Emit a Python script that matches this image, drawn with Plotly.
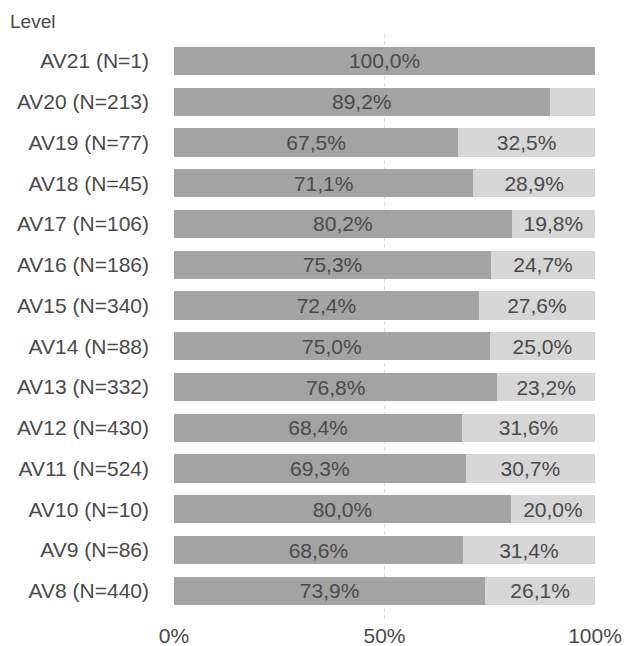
import plotly.graph_objects as go

levels = ["AV8 (N=440)", "AV9 (N=86)", "AV10 (N=10)", "AV11 (N=524)", "AV12 (N=430)",
          "AV13 (N=332)", "AV14 (N=88)", "AV15 (N=340)", "AV16 (N=186)", "AV17 (N=106)",
          "AV18 (N=45)", "AV19 (N=77)", "AV20 (N=213)", "AV21 (N=1)"]
share_a = [73.9, 68.6, 80.0, 69.3, 68.4, 76.8, 75.0, 72.4, 75.3, 80.2, 71.1, 67.5, 89.2, 100.0]
share_b = [26.1, 31.4, 20.0, 30.7, 31.6, 23.2, 25.0, 27.6, 24.7, 19.8, 28.9, 32.5, 10.8, 0.0]

FONT = "Liberation Sans, Arial, sans-serif"
TXT = "#4a4a4a"


def lab(v, min_show=12):
    # comma decimal, small segments stay unlabeled
    return (f"{v:.1f}%".replace(".", ",")) if v >= min_show else ""


fig = go.Figure()
fig.add_trace(go.Bar(
    y=levels, x=share_a, orientation="h",
    marker=dict(color="#a3a3a3", line_width=0),
    text=[lab(v) for v in share_a], textposition="inside", insidetextanchor="middle",
    textfont=dict(color=TXT, size=21), hoverinfo="skip",
))
fig.add_trace(go.Bar(
    y=levels, x=share_b, orientation="h",
    marker=dict(color="#d6d6d6", line_width=0),
    text=[lab(v) for v in share_b], textposition="inside", insidetextanchor="middle",
    textfont=dict(color=TXT, size=21), hoverinfo="skip",
))

# page body has an 8px margin, so margins are shifted by 8px
fig.update_layout(
    barmode="stack", bargap=0.31,
    width=633, height=646,
    margin=dict(l=166, r=46, t=26, b=33),
    plot_bgcolor="white", paper_bgcolor="white",
    font=dict(family=FONT, color=TXT, size=21),
    showlegend=False,
    uniformtext=dict(minsize=21, mode="show"),
    annotations=[dict(text="Level", xref="paper", yref="paper",
                      x=-166 / 421, y=1 + 13 / 587, xanchor="left", yanchor="middle",
                      showarrow=False, font=dict(size=19, color=TXT))],
)
fig.update_xaxes(range=[0, 100], tickvals=[0, 50, 100], ticktext=["0%", "50%", "100%"],
                 showgrid=True, gridcolor="#dedede", griddash="4px,3px", gridwidth=1,
                 zeroline=False, showline=False, ticks="", tickfont=dict(size=21),
                 automargin=False)
fig.update_yaxes(showgrid=False, ticks="", ticklabelstandoff=24, tickfont=dict(size=21),
                 range=[-0.74, 13.66], automargin=False)

fig.write_html("out.html")
